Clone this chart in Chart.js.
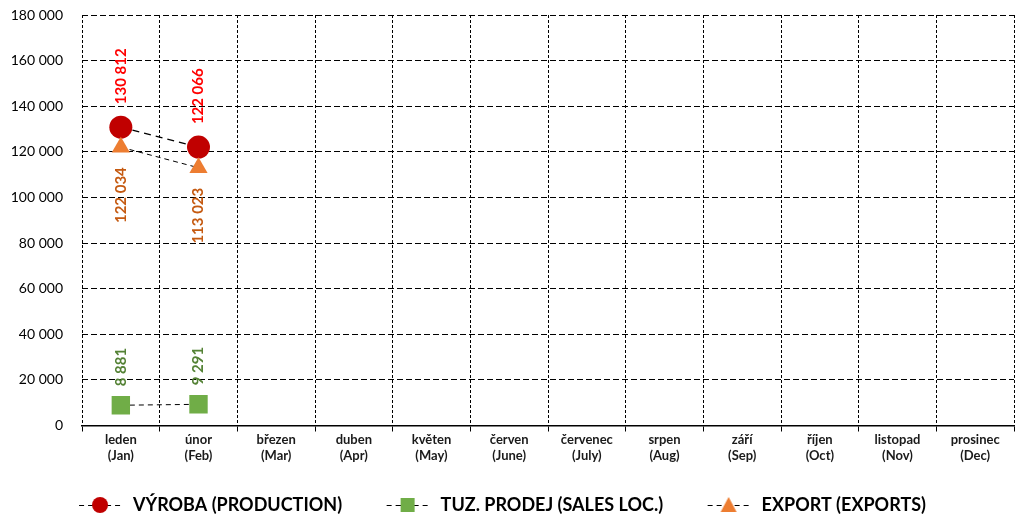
<!doctype html>
<html>
<head>
<meta charset="utf-8">
<title>Výroba / prodej / export</title>
<script src="https://cdn.jsdelivr.net/npm/chart.js@4.4.1/dist/chart.umd.min.js"></script>
<style>
  html, body { margin: 0; padding: 0; background: #fff; }
  #wrap { width: 1027px; height: 516px; }
</style>
</head>
<body>
<div id="wrap"><canvas id="LineChart" width="1027" height="516"></canvas></div>
<script>
// months (czech + english)
var months = ['leden', 'únor', 'březen', 'duben', 'květen', 'červen', 'červenec', 'srpen', 'září', 'říjen', 'listopad', 'prosinec'];
var monthsEn = ['(Jan)', '(Feb)', '(Mar)', '(Apr)', '(May)', '(June)', '(July)', '(Aug)', '(Sep)', '(Oct)', '(Nov)', '(Dec)'];

var production = [130812, 122066, null, null, null, null, null, null, null, null, null, null];
var salesLocal = [8881, 9291, null, null, null, null, null, null, null, null, null, null];
var exports_ = [122034, 113023, null, null, null, null, null, null, null, null, null, null];

var seriesNames = ['VÝROBA (PRODUCTION)', 'TUZ. PRODEJ (SALES LOC.)', 'EXPORT (EXPORTS)'];

var yMax = 180000;
var yStep = 20000;

var FONT = 'Lato, "Open Sans", sans-serif';

function fmt(v) {
  return String(v).replace(/\B(?=(\d{3})+(?!\d))/g, ' ');
}

// legend picture: dashed line with the marker in the middle
// (blank strip on the left gives the space between legend entries)
var ICON_GAP = 24;
function legendIcon(shape, color) {
  var c = document.createElement('canvas');
  c.width = ICON_GAP + 42 + 3; c.height = 20;
  var g = c.getContext('2d');
  g.translate(ICON_GAP, 0);
  g.strokeStyle = '#000';
  g.lineWidth = 1;
  g.setLineDash([5, 4]);
  g.beginPath(); g.moveTo(0, 10.5); g.lineTo(42, 10.5); g.stroke();
  g.fillStyle = color;
  if (shape == 'circle') {
    g.beginPath(); g.arc(21, 10, 8, 0, Math.PI * 2); g.fill();
  } else if (shape == 'rect') {
    g.fillRect(14, 3, 14, 14);
  } else {
    g.beginPath(); g.moveTo(21, 2); g.lineTo(29, 17); g.lineTo(13, 17); g.closePath(); g.fill();
  }
  return c;
}

var icons = [legendIcon('circle', '#C00000'), legendIcon('rect', '#70AD47'), legendIcon('triangle', '#ED7D31')];

// vertical value labels
var valueLabels = {
  id: 'valueLabels',
  afterDatasetsDraw: function(chart) {
    var ctx = chart.ctx;
    chart.data.datasets.forEach(function(ds, i) {
      var meta = chart.getDatasetMeta(i);
      meta.data.forEach(function(pt, j) {
        var v = ds.data[j];
        if (v == null) return;
        ctx.save();
        ctx.translate(pt.x, pt.y);
        ctx.rotate(-Math.PI / 2);
        ctx.font = 'bold 15px ' + FONT;
        ctx.fillStyle = ds.labelColor;
        ctx.textBaseline = 'middle';
        if (ds.labelPos == 'below') {
          ctx.textAlign = 'right';
          ctx.fillText(fmt(v), -ds.labelGap, 0);
        } else {
          ctx.textAlign = 'left';
          ctx.fillText(fmt(v), ds.labelGap, 0);
        }
        ctx.restore();
      });
    });
  }
};

// move the legend row a bit (lower and to the left), like the original
var legendShift = {
  id: 'legendShift',
  afterLayout: function(chart) {
    if (chart.legend) {
      chart.legend.top += 8;
      chart.legend.bottom += 8;
      chart.legend.left -= 18;
      chart.legend.right -= 18;
    }
  }
};

var ctx = document.getElementById('LineChart');
var myChart = new Chart(ctx, {
  type: 'line',
  data: {
    labels: months.map(function(m, i) { return [m, monthsEn[i]]; }),
    datasets: [{
      label: seriesNames[0],
      data: production,
      borderColor: '#000',
      borderWidth: 1.4,
      borderDash: [7, 5],
      pointStyle: 'circle',
      pointRadius: 11.5,
      pointHoverRadius: 11.5,
      pointBackgroundColor: '#C00000',
      pointBorderColor: '#C00000',
      pointBorderWidth: 0,
      labelColor: '#FF0000',
      labelPos: 'above',
      labelGap: 23,
      order: 1
    }, {
      label: seriesNames[1],
      data: salesLocal,
      borderColor: '#000',
      borderWidth: 1,
      borderDash: [5, 4],
      pointStyle: 'rect',
      pointRadius: 13,
      pointHoverRadius: 13,
      pointBackgroundColor: '#70AD47',
      pointBorderColor: '#70AD47',
      pointBorderWidth: 0,
      labelColor: '#548235',
      labelPos: 'above',
      labelGap: 19,
      order: 2
    }, {
      label: seriesNames[2],
      data: exports_,
      borderColor: '#000',
      borderWidth: 1,
      borderDash: [5, 4],
      pointStyle: 'triangle',
      pointRadius: 10.5,
      pointHoverRadius: 10.5,
      pointBackgroundColor: '#ED7D31',
      pointBorderColor: '#ED7D31',
      pointBorderWidth: 0,
      labelColor: '#C55A11',
      labelPos: 'below',
      labelGap: 20,
      order: 0
    }]
  },
  plugins: [valueLabels, legendShift],
  options: {
    responsive: false,
    animation: false,
    spanGaps: false,
    layout: { padding: { top: 15, right: 10, left: 0, bottom: 0 } },
    scales: {
      x: {
        offset: true,
        grid: {
          offset: true,
          color: '#000',
          lineWidth: 1,
          drawTicks: true,
          tickLength: 6,
          tickColor: '#000',
          tickBorderDash: []
        },
        border: { display: true, color: '#000', width: 1.5, dash: [3, 2] },
        ticks: {
          color: '#1a1a1a',
          font: { family: FONT, size: 13, weight: 'bold', lineHeight: 1.2 },
          padding: 1,
          maxRotation: 0,
          autoSkip: false
        },
        afterFit: function(s) { s.height = 42; }
      },
      y: {
        min: 0,
        max: yMax,
        grid: {
          color: '#000',
          lineWidth: 1,
          drawTicks: true,
          tickLength: 18,
          tickColor: 'rgba(0,0,0,0)'
        },
        border: { display: false, dash: [6, 3] },
        ticks: {
          stepSize: yStep,
          color: '#000',
          padding: 1,
          font: { family: FONT, size: 14 },
          callback: function(v) { return fmt(v); }
        },
        afterFit: function(s) { s.width = 82; }
      }
    },
    plugins: {
      tooltip: { enabled: false },
      legend: {
        position: 'bottom',
        labels: {
          usePointStyle: true,
          pointStyleWidth: ICON_GAP + 45,
          padding: 20.5,
          color: '#000',
          font: { family: FONT, size: 18, weight: 'bold' },
          generateLabels: function(chart) {
            return chart.data.datasets.map(function(ds, i) {
              return {
                text: ds.label,
                pointStyle: icons[i],
                fillStyle: ds.pointBackgroundColor,
                strokeStyle: ds.pointBackgroundColor,
                lineWidth: 0,
                hidden: false,
                datasetIndex: i,
                fontColor: '#000'
              };
            });
          }
        }
      }
    }
  }
});
</script>
</body>
</html>
